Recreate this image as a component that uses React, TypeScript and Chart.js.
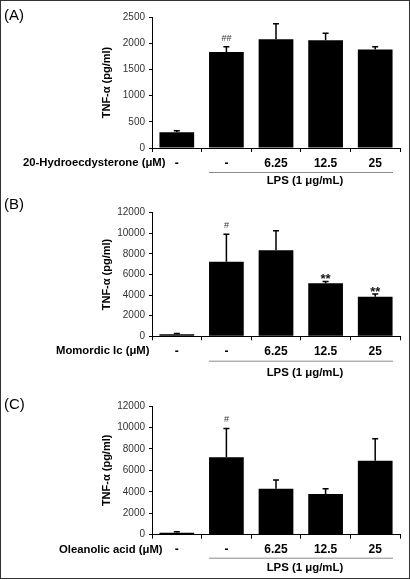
import React, { useEffect, useRef } from "react";
import { Chart, registerables } from "chart.js";

Chart.register(...registerables);

const FONT = '"Liberation Sans", Arial, sans-serif';

// Shared category tick labels (treatment concentration)
const categories = ["-", "-", "6.25", "12.5", "25"];

// (A) 20-Hydroecdysterone
const hydroMeans = [300, 1830, 2075, 2055, 1880];
const hydroErrors = [30, 100, 295, 135, 50];
const hydroMarks = ["", "##", "", "", ""];

// (B) Momordic Ic
const momMeans = [200, 7230, 8360, 5150, 3830];
const momErrors = [80, 2680, 1880, 180, 270];
const momMarks = ["", "#", "", "**", "**"];

// (C) Oleanolic acid
const oleMeans = [190, 7230, 4290, 3800, 6900];
const oleErrors = [90, 2680, 810, 490, 2050];
const oleMarks = ["", "#", "", "", ""];

const yTitle = "TNF-α (pg/ml)";
const lpsLabel = "LPS (1 μg/mL)";

type Panel = {
  tag: string;
  compound: string;
  compoundX: number;
  top: number;
  height: number;
  chartTop: number;
  chartBottom: number;
  yMax: number;
  yStep: number;
  means: number[];
  errors: number[];
  marks: string[];
  lineOff: number;
  lpsOff: number;
  tagY: number;
};

const panels: Panel[] = [
  {
    tag: "(A)", compound: "20-Hydroecdysterone (μM)", compoundX: 23,
    top: 0, height: 190, chartTop: 17, chartBottom: 148,
    yMax: 2500, yStep: 500,
    means: hydroMeans, errors: hydroErrors, marks: hydroMarks,
    lineOff: 24, lpsOff: 33, tagY: 16,
  },
  {
    tag: "(B)", compound: "Momordic Ic (μM)", compoundX: 56,
    top: 190, height: 195, chartTop: 22.7, chartBottom: 146.3,
    yMax: 12000, yStep: 2000,
    means: momMeans, errors: momErrors, marks: momMarks,
    lineOff: 24.4, lpsOff: 36.4, tagY: 15,
  },
  {
    tag: "(C)", compound: "Oleanolic acid (μM)", compoundX: 59,
    top: 385, height: 195, chartTop: 21, chartBottom: 149.7,
    yMax: 12000, yStep: 2000,
    means: oleMeans, errors: oleErrors, marks: oleMarks,
    lineOff: 23, lpsOff: 33.3, tagY: 20,
  },
];

function PanelChart({ p }: { p: Panel }) {
  const ref = useRef<HTMLCanvasElement | null>(null);
  useEffect(() => {
    if (!ref.current) return;
    const overlay = {
      id: "overlay",
      afterDraw(chart: any) {
        const ctx = chart.ctx as CanvasRenderingContext2D;
        const meta = chart.getDatasetMeta(0);
        const ys = chart.scales.y;
        const area = chart.chartArea;
        ctx.save();
        // error bars
        ctx.strokeStyle = "#000";
        ctx.fillStyle = "#000";
        ctx.lineWidth = 1.5;
        p.means.forEach((m, i) => {
          const x = meta.data[i].x;
          const yb = ys.getPixelForValue(m);
          const yt = ys.getPixelForValue(m + p.errors[i]);
          ctx.beginPath();
          ctx.moveTo(x, yb);
          ctx.lineTo(x, yt);
          ctx.moveTo(x - 3, yt);
          ctx.lineTo(x + 3, yt);
          ctx.stroke();
          const mk = p.marks[i];
          if (mk) {
            ctx.textAlign = "center";
            ctx.textBaseline = "alphabetic";
            if (mk.startsWith("#")) {
              ctx.font = `9px ${FONT}`;
              ctx.fillStyle = "#333";
              ctx.fillText(mk, x, yt - 6);
            } else {
              ctx.font = `bold 13px ${FONT}`;
              ctx.fillStyle = "#111";
              ctx.fillText(mk, x, yt + 1.5);
            }
          }
        });
        // y title
        ctx.fillStyle = "#000";
        ctx.save();
        ctx.translate(107, (area.top + area.bottom) / 2);
        ctx.rotate(-Math.PI / 2);
        ctx.font = `bold 11px ${FONT}`;
        ctx.textAlign = "center";
        ctx.textBaseline = "middle";
        ctx.fillText(yTitle, 0, 0);
        ctx.restore();
        // panel tag
        ctx.font = `15px ${FONT}`;
        ctx.textAlign = "left";
        ctx.textBaseline = "middle";
        ctx.fillText(p.tag, 4, p.tagY);
        // compound row label
        ctx.font = `bold 11.3px ${FONT}`;
        ctx.textBaseline = "middle";
        ctx.fillText(p.compound, p.compoundX, area.bottom + 15);
        // LPS underline
        const x1 = meta.data[1].x - 17.5;
        ctx.strokeStyle = "#8a8a8a";
        ctx.lineWidth = 1;
        ctx.beginPath();
        ctx.moveTo(x1, area.bottom + p.lineOff + 0.5);
        ctx.lineTo(393, area.bottom + p.lineOff + 0.5);
        ctx.stroke();
        // LPS label
        ctx.font = `bold 11.4px ${FONT}`;
        ctx.textAlign = "center";
        ctx.fillText(lpsLabel, (x1 + 401) / 2, area.bottom + p.lpsOff);
        ctx.restore();
      },
    };
    const chart = new Chart(ref.current, {
      type: "bar",
      data: {
        labels: categories,
        datasets: [
          {
            data: p.means,
            backgroundColor: "#000",
            borderWidth: 0,
            categoryPercentage: 1,
            barPercentage: 0.7,
          },
        ],
      },
      options: {
        responsive: false,
        animation: false,
        devicePixelRatio: 1,
        layout: { padding: { top: p.chartTop, right: 10, left: 0, bottom: 0 } },
        plugins: { legend: { display: false }, tooltip: { enabled: false }, title: { display: false } },
        scales: {
          x: {
            type: "category",
            offset: true,
            grid: { display: true, drawOnChartArea: false, drawTicks: true, tickLength: 4, offset: true, color: "#000" },
            border: { display: true, color: "#000", width: 1 },
            ticks: {
              color: "#000",
              font: { family: FONT, size: 12, weight: "bold" },
              padding: 4,
              maxRotation: 0,
              autoSkip: false,
            },
            afterFit: (s: any) => {
              s.height = p.height - p.chartBottom;
            },
          },
          y: {
            min: 0,
            max: p.yMax,
            ticks: {
              stepSize: p.yStep,
              color: "#333",
              font: { family: FONT, size: 10 },
              padding: 4,
              callback: (v: any) => String(v),
            },
            grid: { display: true, drawOnChartArea: false, drawTicks: true, tickLength: 3, color: "#000" },
            border: { display: true, color: "#000", width: 1 },
            afterFit: (s: any) => {
              s.width = 152;
            },
          },
        },
      } as any,
      plugins: [overlay],
    });
    return () => chart.destroy();
  }, [p]);
  return (
    <canvas
      ref={ref}
      width={410}
      height={p.height}
      style={{ position: "absolute", left: 0, top: p.top, width: 410, height: p.height, display: "block" }}
    />
  );
}

export default function App() {
  return (
    <div style={{ position: "absolute", left: 0, top: 0, width: 410, height: 580, background: "#fff" }}>
      {panels.map((p) => (
        <PanelChart key={p.tag} p={p} />
      ))}
      <div
        style={{
          position: "absolute",
          left: 0,
          top: 0,
          width: 410,
          height: 579,
          boxSizing: "border-box",
          border: "1px solid #333",
          pointerEvents: "none",
        }}
      />
    </div>
  );
}
